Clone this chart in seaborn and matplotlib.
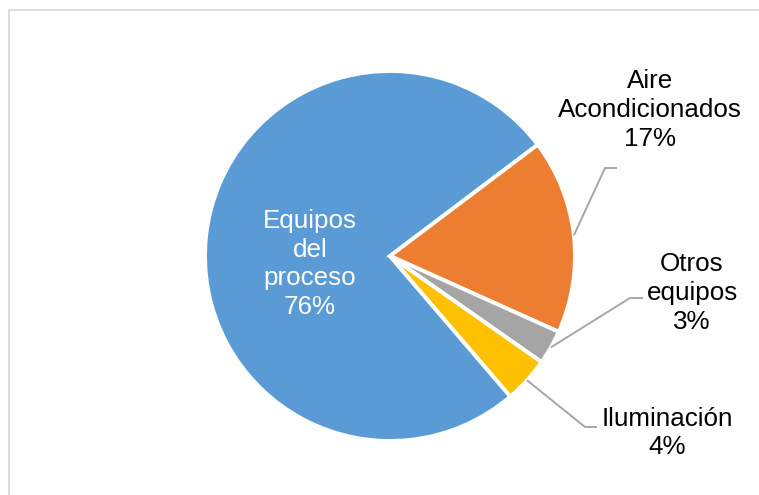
import numpy as np
import matplotlib
matplotlib.use("Agg")
import matplotlib.pyplot as plt
import seaborn as sns

# Consumo eléctrico por uso final
categories = ["Equipos\ndel\nproceso", "Aire\nAcondicionados", "Otros\nequipos", "Iluminación"]
shares = [76, 17, 3, 4]
colors = ["#5B9BD5", "#ED7D31", "#A5A5A5", "#FFC000"]

sns.set_theme(style="white")
plt.rcParams["font.family"] = ["Liberation Sans", "DejaVu Sans"]

W, H = 759, 495
fig = plt.figure(figsize=(W / 100, H / 100), dpi=100)
ax = fig.add_axes([0, 0, 1, 1])

center = (390, H - 256)
radius = 185
palette = sns.color_palette(colors)

wedges, _ = ax.pie(
    shares,
    colors=palette,
    startangle=-49.4,
    counterclock=False,
    center=center,
    radius=radius,
    frame=True,
    wedgeprops=dict(edgecolor="white", linewidth=2.8),
)
ax.set_xlim(0, W)
ax.set_ylim(0, H)
ax.set_aspect("equal")
ax.axis("off")

fs = 18.7
ls = 1.25
labels = [f"{c}\n{v}%" for c, v in zip(categories, shares)]

# Etiqueta interior de la porción principal
ax.text(310, H - 264, labels[0], ha="center", va="center", color="white",
        fontsize=fs, linespacing=ls)

# Etiquetas exteriores con líneas guía: (posición del texto, codo, fin de la guía)
outside = {
    1: ((650, H - 110), (605, H - 168), (617, H - 168)),
    2: ((692, H - 293), (630, H - 298), (643, H - 298)),
    3: ((667, H - 433), (585, H - 427), (597, H - 427)),
}
for i, (txt_pos, elbow, end) in outside.items():
    w = wedges[i]
    ang = np.deg2rad((w.theta1 + w.theta2) / 2)
    start = (center[0] + radius * np.cos(ang), center[1] + radius * np.sin(ang))
    ax.plot([start[0], elbow[0], end[0]], [start[1], elbow[1], end[1]],
            color="#A6A6A6", lw=1.4, solid_capstyle="butt")
    ax.text(txt_pos[0], txt_pos[1], labels[i], ha="center", va="center",
            color="black", fontsize=fs, linespacing=ls)

# Marco del área del gráfico
ax.plot([9, 9, W + 5], [-5, H - 10, H - 10], color="#D9D9D9", lw=1.3)

fig.savefig("out.png", dpi=100)
